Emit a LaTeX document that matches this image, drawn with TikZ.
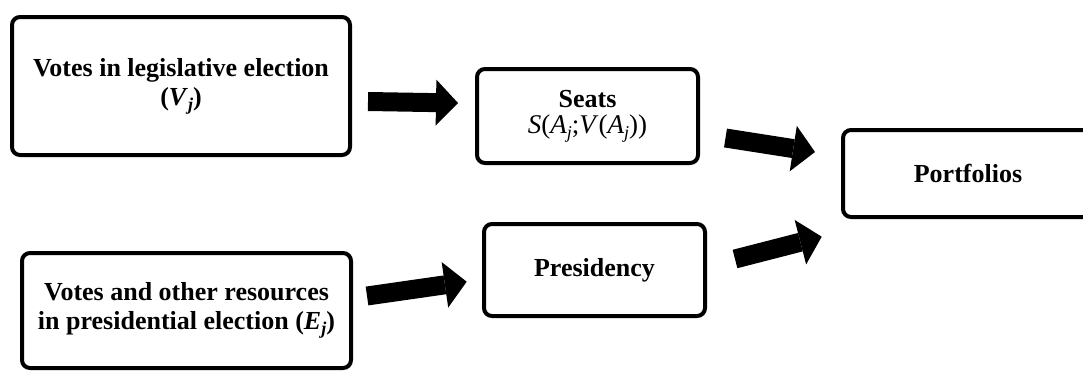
\documentclass[tikz,border=0pt]{standalone}
\usepackage{fontspec}
\setmainfont{Liberation Serif}
\usetikzlibrary{arrows.meta,calc}
\newcommand\lowsub[1]{\raisebox{-5pt}{\fontsize{18}{18}\selectfont #1}}
\begin{document}
\begin{tikzpicture}[x=1pt,y=-1pt,
  box/.style={draw, line width=4pt, rounded corners=8pt, align=center, inner sep=0pt,
              font=\fontsize{26}{29}\selectfont\bfseries},
  fat/.style={line width=19pt, -{Triangle[length=22pt,width=46pt,line width=0pt]}}]
\useasboundingbox (0,0) rectangle (1083,370);
\clip (0,0) rectangle (1083,370);
\fill[white] (0,0) rectangle (1083,370);
\node[box, minimum width=338pt, minimum height=138pt] (b1) at (181,86)
  {Votes in legislative election\\(\textit{V}\lowsub{\textit{j}})};
\node[box, minimum width=221pt, minimum height=94pt] (seats) at (587.5,116)
  {Seats\\[-3pt]{\mdseries\fontsize{27}{29}\selectfont\textit{S}(\textit{A}\lowsub{\textit{j}};\textit{V}(\textit{A}\lowsub{\textit{j}}))}};
\node[box, minimum width=250pt, minimum height=87pt] (port) at (968,173.5) {Portfolios};
\node[box, minimum width=221pt, minimum height=92pt] (pres) at (594.5,270) {Presidency};
\node[box, minimum width=329pt, minimum height=115pt] (b4) at (186.5,310.5)
  {Votes and other resources\\in presidential election (\textit{E}\lowsub{\textit{j}})};
\draw[fat] ($(b1.east)+(16,15.5)$) -- ($(seats.west)+(-17,-13)$);
\draw[fat] ($(seats.east)+(25.5,22)$) -- ($(port.west)+(-26,-21.5)$);
\draw[fat] ($(b4.east)+(14,-14.5)$) -- ($(pres.west)+(-15.3,11.7)$);
\draw[fat] ($(pres.east)+(28,-11)$) -- ($(port.west)+(-19.3,63.2)$);
\end{tikzpicture}
\end{document}
